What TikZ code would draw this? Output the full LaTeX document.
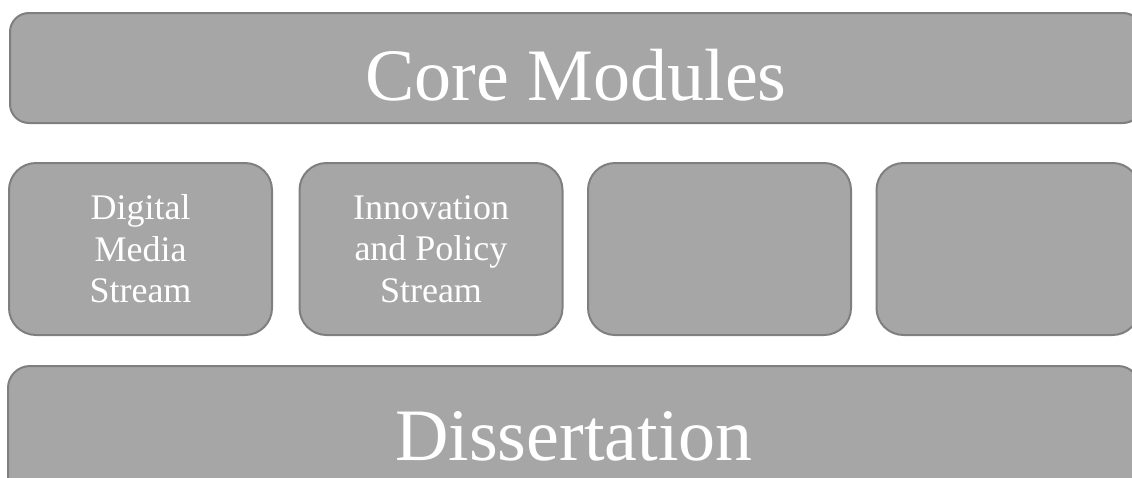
\documentclass[tikz,border=0pt]{standalone}
\usepackage{fontspec}
\setmainfont{Liberation Serif}
\usepackage{tikz}
\usetikzlibrary{shapes}

\definecolor{boxfill}{RGB}{166,166,166}
\definecolor{boxline}{RGB}{127,127,127}

\tikzset{
  panel/.style={fill=boxfill, draw=boxline, line width=2pt, text=white,
    rectangle, rounded corners=20pt, inner sep=0pt},
  bigpanel/.style={panel, minimum width=1132pt,
    font=\fontsize{74}{80}\selectfont},
  streampanel/.style={panel, minimum width=263pt, minimum height=172pt,
    rounded corners=27pt, align=center,
    font=\fontsize{36}{41.5}\selectfont}
}

\begin{document}
\begin{tikzpicture}[x=1pt, y=-1pt]

\clip (0,0) rectangle (1132,477);

\node[bigpanel, minimum height=110pt, rounded corners=19pt,
    text height=66pt] (core) at (576,68) {Core Modules};

\node[streampanel] (s1) at (140.5,249) {Digital\\Media\\Stream};

\node[streampanel] (s2) at (431,249) {Innovation\\and Policy\\Stream};

\node[streampanel] (s3) at (719.5,249) {};

\node[streampanel] (s4) at (1008,249) {};

\node[bigpanel, minimum height=140pt, rounded corners=22pt,
    text height=50pt] (diss) at (574,436) {Dissertation};

\end{tikzpicture}
\end{document}
